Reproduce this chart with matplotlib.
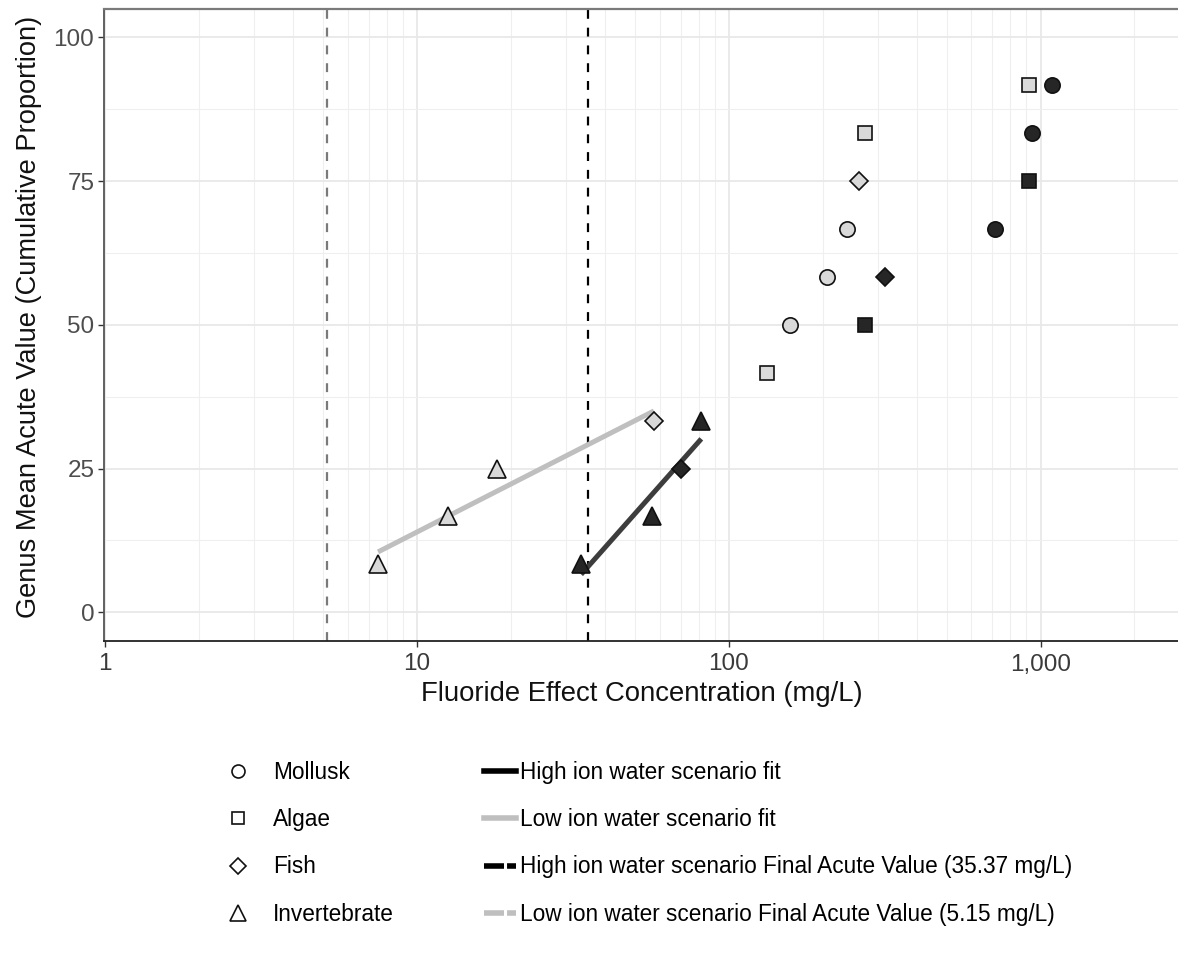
import numpy as np
import matplotlib
matplotlib.use("Agg")
import matplotlib.pyplot as plt
from matplotlib.lines import Line2D

plt.rcParams['font.family'] = ['Liberation Sans', 'DejaVu Sans']

# ---------------- data ----------------
taxa = ['Mollusk', 'Algae', 'Fish', 'Invertebrate']
taxon_marker = {'Mollusk': 'o', 'Algae': 's', 'Fish': 'D', 'Invertebrate': '^'}
taxon_ms = {'Mollusk': 11.0, 'Algae': 10.0, 'Fish': 9.0, 'Invertebrate': 13.5}

low_conc = [7.5, 12.6, 18.1, 57.5, 133, 157, 207, 239, 262, 274, 917]
low_taxon = ['Invertebrate', 'Invertebrate', 'Invertebrate', 'Fish', 'Algae',
             'Mollusk', 'Mollusk', 'Mollusk', 'Fish', 'Algae', 'Algae']
low_pct = [8.33, 16.67, 25.0, 33.33, 41.67, 50.0, 58.33, 66.67, 75.0, 83.33, 91.67]

high_conc = [33.6, 56.6, 70.2, 81.6, 273, 318, 713, 917, 936, 1084]
high_taxon = ['Invertebrate', 'Invertebrate', 'Fish', 'Invertebrate', 'Algae',
              'Fish', 'Mollusk', 'Algae', 'Mollusk', 'Mollusk']
high_pct = [8.33, 16.67, 25.0, 33.33, 50.0, 58.33, 66.67, 75.0, 83.33, 91.67]

n_fit = 4  # lowest four genera used for the FAV regression
low_fav = 5.15
high_fav = 35.37

line_labels = ['High ion water scenario fit',
               'Low ion water scenario fit',
               'High ion water scenario Final Acute Value (35.37 mg/L)',
               'Low ion water scenario Final Acute Value (5.15 mg/L)']

# ---------------- style ----------------
low_fill = '#d9d9d9'
high_fill = '#262626'
low_line = '#bfbfbf'
high_line = '#3d3d3d'
low_dash = '#7a7a7a'
high_dash = '#000000'

W, H = 1178, 955
fig = plt.figure(figsize=(W / 100, H / 100), dpi=100)
ax_l, ax_r, ax_t, ax_b = 104, 1180, 8.5, 641
ax = fig.add_axes([ax_l / W, 1 - ax_b / H, (ax_r - ax_l) / W, (ax_b - ax_t) / H])

ax.set_xscale('log')
ax.set_xlim(10 ** -0.004, 10 ** 3.447)
ax.set_ylim(-5, 105)

# grid
ax.set_yticks([0, 25, 50, 75, 100])
ax.set_yticks([12.5, 37.5, 62.5, 87.5], minor=True)
ax.set_xticks([1, 10, 100, 1000])
ax.set_xticklabels(['1', '10', '100', '1,000'])
ax.xaxis.set_minor_locator(matplotlib.ticker.LogLocator(base=10, subs=np.arange(2, 10)))
ax.xaxis.set_minor_formatter(matplotlib.ticker.NullFormatter())
ax.grid(True, which='major', color='#e8e8e8', linewidth=1.3, zorder=0)
ax.grid(True, which='minor', color='#efefef', linewidth=0.8, zorder=0)
ax.set_axisbelow(True)
ax.tick_params(which='minor', length=0)
ax.tick_params(which='major', length=4, width=1.0, color='#333333', direction='out')
ax.tick_params(axis='y', labelsize=17.5, labelcolor='#4d4d4d', pad=3)
ax.tick_params(axis='x', labelsize=17.5, labelcolor='#3a3a3a', pad=5)

ax.spines['right'].set_visible(False)
ax.spines['top'].set_color('#7a7a7a')
ax.spines['top'].set_linewidth(1.6)
ax.spines['left'].set_color('#555555')
ax.spines['left'].set_linewidth(1.3)
ax.spines['bottom'].set_color('#222222')
ax.spines['bottom'].set_linewidth(1.3)

# FAV vertical lines
ax.axvline(low_fav, color=low_dash, linewidth=1.6, dashes=(4, 4), zorder=2)
ax.axvline(high_fav, color=high_dash, linewidth=1.6, dashes=(4, 4), zorder=2)

# regression fits on the lowest four genera (y vs log10 x)
def fit_line(conc, pct, color):
    lx = np.log10(conc[:n_fit])
    b, a = np.polyfit(lx, pct[:n_fit], 1)
    xs = np.array([lx.min(), lx.max()])
    ax.plot(10 ** xs, a + b * xs, color=color, linewidth=3.6,
            solid_capstyle='butt', zorder=3)

fit_line(np.array(low_conc), np.array(low_pct), low_line)
fit_line(np.array(high_conc), np.array(high_pct), high_line)

# points
def draw_points(conc, tax, pct, fill):
    for c, t, p in zip(conc, tax, pct):
        ax.plot([c], [p], linestyle='none', marker=taxon_marker[t],
                markersize=taxon_ms[t], markerfacecolor=fill,
                markeredgecolor='#111111', markeredgewidth=1.2, zorder=4)

draw_points(low_conc, low_taxon, low_pct, low_fill)
draw_points(high_conc, high_taxon, high_pct, high_fill)

ax.set_xlabel('Fluoride Effect Concentration (mg/L)', fontsize=19.8, color='#111111', labelpad=4)
ax.set_ylabel('Genus Mean Acute Value (Cumulative Proportion)', fontsize=19.6,
              color='#111111', labelpad=8, y=0.512)

# legends
fs_leg = 16.3
shape_handles = [Line2D([], [], linestyle='none', marker=taxon_marker[t],
                        markersize=taxon_ms[t] * 0.85, markerfacecolor='white',
                        markeredgecolor='#111111', markeredgewidth=1.2)
                 for t in taxa]
leg1 = fig.legend(shape_handles, taxa, loc='upper left',
                  bbox_to_anchor=(228 / W, 1 - 761 / H), frameon=False,
                  fontsize=fs_leg, labelspacing=1.07, handlelength=0.9,
                  handletextpad=1.1, borderaxespad=0, borderpad=0)

line_handles = [Line2D([], [], color='#000000', linewidth=4),
                Line2D([], [], color=low_line, linewidth=4),
                Line2D([], [], color='#000000', linewidth=4, dashes=(3.6, 0.55)),
                Line2D([], [], color=low_line, linewidth=4, dashes=(3.6, 0.55))]
leg2 = fig.legend(line_handles, line_labels, loc='upper left',
                  bbox_to_anchor=(484 / W, 1 - 761 / H), frameon=False,
                  fontsize=fs_leg, labelspacing=1.07, handlelength=1.4,
                  handletextpad=0.17, borderaxespad=0, borderpad=0)

fig.savefig('out.png', dpi=100)
